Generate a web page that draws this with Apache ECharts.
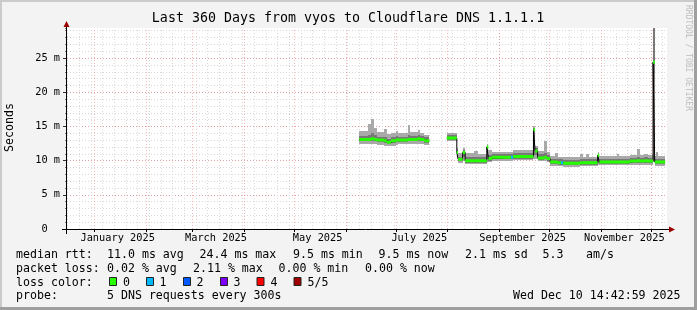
<!DOCTYPE html>
<html><head><meta charset="utf-8">
<script src="https://cdn.jsdelivr.net/npm/echarts@6/dist/echarts.min.js"></script>
<style>html,body{margin:0;padding:0;background:#f3f3f3}#c{width:697px;height:310px}</style>
</head><body><div id="c"></div>
<script>
// ---------- data ----------
const startTime = '2024-12-15T14:42:59';
const endTime = '2025-12-10T14:42:59';

const runStart = [
  '2025-06-09T00:00','2025-06-14T12:00','2025-06-16T00:00','2025-06-18T00:00','2025-06-19T12:00',
  '2025-06-24T00:00','2025-06-25T12:00','2025-06-28T00:00','2025-07-01T00:00','2025-07-02T12:00',
  '2025-07-08T00:00','2025-07-09T12:00','2025-07-14T00:00','2025-07-15T12:00','2025-07-18T00:00',
  '2025-07-21T00:00',
  '2025-07-31T12:00','2025-08-06T12:00','2025-08-07T06:00','2025-08-10T00:00','2025-08-11T12:00',
  '2025-08-17T00:00','2025-08-19T00:00','2025-08-24T12:00','2025-08-25T12:00','2025-08-27T12:00',
  '2025-09-08T00:00','2025-09-09T06:00','2025-09-21T12:00','2025-09-22T12:00','2025-09-24T00:00',
  '2025-09-28T00:00','2025-09-29T12:00','2025-10-01T12:00','2025-10-04T12:00','2025-10-06T00:00',
  '2025-10-08T00:00','2025-10-09T06:00','2025-10-19T12:00','2025-10-21T00:00','2025-10-23T00:00',
  '2025-10-25T00:00','2025-10-30T00:00','2025-10-31T00:00','2025-11-10T12:00','2025-11-12T00:00',
  '2025-11-18T12:00','2025-11-22T12:00','2025-11-24T12:00','2025-11-27T00:00','2025-11-29T00:00',
  '2025-12-02T06:00','2025-12-03T06:00','2025-12-04T06:00','2025-12-05T12:00'
];
const runEnd = '2025-12-09T12:00';

// median rtt (ms)
const median = [
  13.1,13.1,13.2,13.1,13.0, 12.9,12.7,12.9,13.0,13.0, 13.1,13.1,13.2,13.1,12.9,
  null,
  13.3,11.2,10.2,11.2,10.0, 10.0,10.0,12.0,10.3,10.5, 10.5,10.6,14.5,11.4,10.4,
  10.5,10.3,9.8,9.8,9.7, 9.7,9.6,9.7,9.7,9.7, 9.7,10.8,9.8,9.8,9.8,
  9.95,10.0,9.95,10.0,9.95, 24.4,9.8,9.8,9.8
];
// smoke: full spread of the pings (ms)
const smokeLo = [
  12.4,12.4,12.5,12.4,12.3, 12.2,12.1,12.2,12.3,12.4, 12.4,12.5,12.5,12.4,12.3,
  null,
  12.9,10.6,9.7,9.9,9.5, 9.5,9.5,9.8,9.8,10.0, 10.0,10.1,10.3,10.3,9.9,
  9.9,9.8,9.2,9.2,9.2, 9.2,9.1,9.2,9.2,9.2, 9.2,9.3,9.3,9.3,9.3,
  9.4,9.4,9.4,9.4,9.4, 9.8,9.2,9.2,9.2
];
const smokeHi = [
  14.3,15.4,16.1,14.8,14.2, 14.7,13.9,14.0,14.4,14.1, 15.2,14.2,14.5,14.0,13.8,
  null,
  14.1,11.8,11.1,11.9,11.1, 11.4,11.0,12.5,11.6,11.3, 11.3,11.5,15.1,12.2,11.4,
  12.9,11.2,10.7,11.1,10.6, 10.6,10.5,11.0,10.6,11.0, 10.6,11.2,10.7,11.0,10.7,
  10.8,11.7,10.8,11.0,10.8, 29.4,10.7,11.3,10.7
];
// smoke: dense core around the median (ms)
const smokeInLo = [
  12.8,12.8,12.9,12.8,12.7, 12.6,12.4,12.6,12.7,12.7, 12.8,12.8,12.9,12.8,12.6,
  null,
  13.0,10.9,9.9,10.6,9.7, 9.7,9.7,10.3,10.0,10.2, 10.2,10.3,10.8,10.8,10.1,
  10.2,10.0,9.5,9.5,9.4, 9.4,9.3,9.4,9.4,9.4, 9.4,9.6,9.5,9.5,9.5,
  9.6,9.7,9.6,9.7,9.6, 9.9,9.5,9.5,9.5
];
const smokeInHi = [
  13.6,13.7,14.1,13.7,13.5, 13.5,13.2,13.4,13.6,13.5, 13.8,13.6,13.7,13.6,13.4,
  null,
  13.7,11.6,10.6,11.6,10.5, 10.5,10.5,12.2,10.8,11.0, 11.0,11.1,14.8,11.8,10.9,
  11.1,10.8,10.3,10.3,10.2, 10.2,10.1,10.2,10.2,10.2, 10.2,11.0,10.3,10.3,10.3,
  10.4,10.5,10.4,10.5,10.4, 29.4,10.3,10.3,10.3
];
// packet loss level of each run (pings lost out of 5)
const lossLevel = [
  0,0,0,0,0, 0,0,0,0,0, 0,0,0,0,0,
  null,
  0,0,0,0,0, 0,0,0,0,0, 1,0,0,0,0,
  0,0,0,0,0, 1,0,0,0,0, 0,0,0,0,0,
  0,0,0,0,0, 0,0,0,0
];

// axis ticks / labels
const monthTicks = ['2025-01-01','2025-02-01','2025-03-01','2025-04-01','2025-05-01','2025-06-01',
  '2025-07-01','2025-08-01','2025-09-01','2025-10-01','2025-11-01','2025-12-01'];
const weekTicks = ['2024-12-16','2024-12-23','2024-12-30','2025-01-06','2025-01-13','2025-01-20','2025-01-27',
  '2025-02-03','2025-02-10','2025-02-17','2025-02-24','2025-03-03','2025-03-10','2025-03-17','2025-03-24',
  '2025-03-31','2025-04-07','2025-04-14','2025-04-21','2025-04-28','2025-05-05','2025-05-12','2025-05-19',
  '2025-05-26','2025-06-02','2025-06-09','2025-06-16','2025-06-23','2025-06-30','2025-07-07','2025-07-14',
  '2025-07-21','2025-07-28','2025-08-04','2025-08-11','2025-08-18','2025-08-25','2025-09-01','2025-09-08',
  '2025-09-15','2025-09-22','2025-09-29','2025-10-06','2025-10-13','2025-10-20','2025-10-27','2025-11-03',
  '2025-11-10','2025-11-17','2025-11-24','2025-12-01','2025-12-08'];
const labelTimes = ['2025-01-15','2025-03-15','2025-05-15','2025-07-15','2025-09-15','2025-11-15'];
const labelTexts = ['January 2025','March 2025','May 2025','July 2025','September 2025','November 2025'];

const lossColors = ['#26ff00','#00b8ff','#0059ff','#7e00ff','#ff0000','#a10000'];
const lossNames = ['0','1','2','3','4','5/5'];

// ---------- build ----------
const T = s => new Date(s.length === 10 ? s + 'T00:00' : s).getTime();
const smokeOuter = [], smokeInner = [], medLine = [], lossLines = lossColors.map(() => []);
for (let i = 0; i < runStart.length; i++) {
  const t0 = T(runStart[i]);
  const t1 = T(i + 1 < runStart.length ? runStart[i + 1] : runEnd);
  if (median[i] == null) { medLine.push([t0, null]); continue; }
  smokeOuter.push([t0, t1, smokeLo[i], smokeHi[i]]);
  smokeInner.push([t0, t1, smokeInLo[i], smokeInHi[i]]);
  medLine.push([t0, median[i]], [t1, median[i]]);
  lossLines[lossLevel[i]].push([t0, median[i]], [t1, median[i]], [t1, null]);
}
const labelMs = labelTimes.map(T);

const MONO = '"DejaVu Sans Mono", monospace';
const GRID_GRAY = '#d9d9d9';
const GRID_RED = 'rgba(240,70,70,0.38)';

function rectItem(fill) {
  return function (params, api) {
    const a = api.coord([api.value(0), api.value(3)]);
    const b = api.coord([api.value(1), api.value(2)]);
    const x0 = Math.round(a[0]), x1 = Math.round(b[0]);
    const y0 = Math.round(a[1]), y1 = Math.round(b[1]);
    return { type: 'rect', shape: { x: x0, y: y0, width: Math.max(1, x1 - x0), height: Math.max(1, y1 - y0) },
      style: { fill: fill } };
  };
}

function txt(x, y, s, o) {
  o = o || {};
  return { type: 'text', x: x, y: y, rotation: o.rot || 0, z: 100, silent: true,
    style: { text: s, fill: o.color || '#000', font: (o.size || 11.6) + 'px ' + MONO,
      align: o.align || 'left', textAlign: o.align || 'left',
      verticalAlign: 'middle', textVerticalAlign: 'middle' } };
}

const G = [];
// frame
G.push({ type: 'rect', z: 100, shape: { x: 0, y: 0, width: 697, height: 2 }, style: { fill: '#cbcbcb' } });
G.push({ type: 'rect', z: 100, shape: { x: 0, y: 0, width: 2, height: 310 }, style: { fill: '#cbcbcb' } });
G.push({ type: 'rect', z: 100, shape: { x: 694, y: 0, width: 3, height: 310 }, style: { fill: '#9f9f9f' } });
G.push({ type: 'rect', z: 100, shape: { x: 0, y: 307, width: 697, height: 3 }, style: { fill: '#9f9f9f' } });
// axes
G.push({ type: 'line', z: 100, shape: { x1: 62, y1: 229.5, x2: 669, y2: 229.5 }, style: { stroke: '#000', lineWidth: 1 } });
G.push({ type: 'line', z: 100, shape: { x1: 66.5, y1: 234, x2: 66.5, y2: 26 }, style: { stroke: '#000', lineWidth: 1 } });
G.push({ type: 'polygon', z: 101, shape: { points: [[669, 226.5], [675, 229.5], [669, 232.5]] }, style: { fill: '#9a0000' } });
G.push({ type: 'polygon', z: 101, shape: { points: [[63.5, 27], [66.5, 21], [69.5, 27]] }, style: { fill: '#9a0000' } });
// title, unit, watermark
G.push(txt(348, 19, 'Last 360 Days from vyos to Cloudflare DNS 1.1.1.1', { size: 13.3, align: 'center' }));
G.push(txt(10, 127.5, 'Seconds', { rot: Math.PI / 2, align: 'center' }));
G.push(txt(688, 5, 'RRDTOOL / TOBI OETIKER', { rot: -Math.PI / 2, size: 8, color: '#bdbdbd' }));
// legend
const L1 = 255, L2 = 268.5, L3 = 282.5, L4 = 296;
[[16, 'median rtt:'], [107, '11.0 ms avg'], [199.5, '24.4 ms max'], [293, '9.5 ms min'],
 [378.5, '9.5 ms now'], [465, '2.1 ms sd'], [542.5, '5.3'], [586, 'am/s']].forEach(p => G.push(txt(p[0], L1, p[1])));
[[16, 'packet loss:'], [107, '0.02 % avg'], [193, '2.11 % max'], [278.5, '0.00 % min'],
 [365, '0.00 % now']].forEach(p => G.push(txt(p[0], L2, p[1])));
G.push(txt(16, L3, 'loss color:'));
const boxX = [109, 146, 183, 220, 256.5, 293.5];
const boxLabelX = [123, 159.5, 196.5, 233.5, 270.5, 307.5];
lossColors.forEach((c, i) => {
  G.push({ type: 'rect', z: 100, shape: { x: boxX[i] + 0.5, y: 277.5, width: 7, height: 8 },
    style: { fill: c, stroke: '#222', lineWidth: 1 } });
  G.push(txt(boxLabelX[i], L3, lossNames[i]));
});
G.push(txt(16, L4, 'probe:'));
G.push(txt(107, L4, '5 DNS requests every 300s'));
G.push(txt(680.5, L4, 'Wed Dec 10 14:42:59 2025', { align: 'right' }));

const chart = echarts.init(document.getElementById('c'), null, { renderer: 'canvas' });
chart.setOption({
  animation: false,
  backgroundColor: '#f3f3f3',
  grid: { left: 67, top: 28, width: 600, height: 201, show: true, backgroundColor: '#ffffff', borderWidth: 0 },
  xAxis: [{
    type: 'value', min: T(startTime), max: T(endTime),
    axisLine: { show: false },
    axisTick: { show: true, customValues: monthTicks.map(T), length: 3, lineStyle: { color: '#000' } },
    axisLabel: { customValues: labelMs, hideOverlap: false, margin: 4, color: '#000', fontFamily: MONO, fontSize: 10.3,
      showMinLabel: true, showMaxLabel: true,
      formatter: v => { const k = labelMs.indexOf(+v); return k >= 0 ? labelTexts[k] : ''; } },
    splitLine: { show: false }
  }],
  yAxis: [{
    type: 'value', min: 0, max: 29.4, interval: 1, position: 'left',
    axisLine: { show: false }, axisLabel: { show: false },
    axisTick: { show: true, length: 2, lineStyle: { color: '#777' } },
    splitLine: { show: true, showMinLine: false, showMaxLine: false, lineStyle: { color: GRID_GRAY, type: [1, 2], width: 1 } }
  }, {
    type: 'value', min: 0, max: 29.4, interval: 5, position: 'left',
    axisLine: { show: false },
    axisTick: { show: true, length: 4, lineStyle: { color: '#333' } },
    axisLabel: { showMaxLabel: false, margin: 7, color: '#000', fontFamily: MONO, fontSize: 10.3,
      formatter: v => v === 0 ? '0  ' : (v % 5 === 0 ? v + ' m' : '') },
    splitLine: { show: true, showMinLine: false, showMaxLine: false, lineStyle: { color: GRID_RED, type: [1, 2], width: 1 } }
  }],
  series: [
    {
      type: 'custom', name: 'smoke', z: 3, clip: true, renderItem: rectItem('#a9a9a9'),
      encode: { x: [0, 1], y: [2, 3] }, data: smokeOuter,
      markLine: {
        z: 1, silent: true, symbol: ['none', 'none'], label: { show: false }, animation: false,
        data: weekTicks.map(t => ({ xAxis: T(t), lineStyle: { color: GRID_GRAY, type: [1, 2], width: 1 } }))
          .concat(monthTicks.map(t => ({ xAxis: T(t), lineStyle: { color: GRID_RED, type: [1, 2], width: 1 } })))
      }
    },
    { type: 'custom', name: 'smokeCore', z: 3, clip: true, renderItem: rectItem('#787878'),
      encode: { x: [0, 1], y: [2, 3] }, data: smokeInner },
    { type: 'line', name: 'median', z: 4, data: medLine, showSymbol: false, connectNulls: false,
      lineStyle: { color: '#000', width: 1 }, silent: true },
  ].concat(lossLines.map((d, i) => ({
    type: 'line', name: 'loss' + i, z: 5, data: d, showSymbol: false, connectNulls: false,
    lineStyle: { color: lossColors[i], width: 3, cap: 'butt' }, silent: true
  }))),
  graphic: { elements: G }
});
</script>
</body></html>
